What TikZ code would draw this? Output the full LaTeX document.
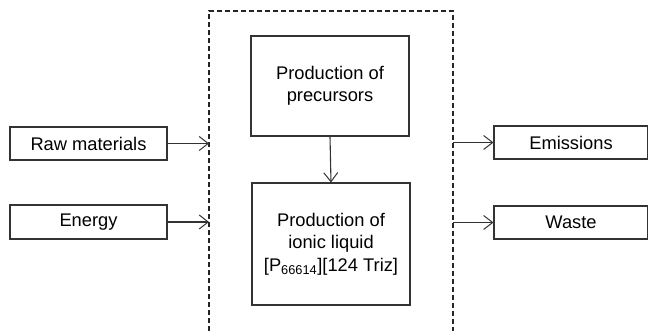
\documentclass[tikz,border=0pt]{standalone}
\usepackage{fontspec}
\setmainfont{Liberation Sans}
\usetikzlibrary{arrows.meta}
\begin{document}
\begin{tikzpicture}[x=1pt,y=1pt,
  every node/.style={font=\fontsize{18.3}{22.5}\selectfont},
  flowbox/.style={draw=black!80,line width=1.1pt,align=center,inner sep=0pt,fill=white},
  flowarrow/.style={draw=black!80,line width=1.1pt,-{Straight Barb[length=9pt,width=14pt,line width=1pt]}},
  sysline/.style={draw=black!85,line width=1.1pt,dash pattern=on 5pt off 3pt}]
\useasboundingbox (0,0) rectangle (648,331);
% system boundary
\coordinate (sbl) at (209,0);
\coordinate (stl) at (209,320);
\coordinate (str) at (453,320);
\coordinate (sbr) at (453,0);
\draw[sysline] (sbl) -- (stl) -- (str) -- (sbr);
% nodes
\node[flowbox,minimum width=158pt,minimum height=100pt] (prec) at (330,245) {Production of\\precursors};
\node[flowbox,minimum width=158pt,minimum height=122pt] (il) at (331,87) {Production of\\ionic liquid\\{[P}\textsubscript{66614}][124 Triz]};
\node[flowbox,minimum width=157pt,minimum height=33pt] (raw) at (88.5,187.5) {Raw materials};
\node[flowbox,minimum width=157pt,minimum height=34pt] (energy) at (88.5,109) {Energy};
\node[flowbox,minimum width=154pt,minimum height=33pt] (emis) at (571,188.5) {Emissions};
\node[flowbox,minimum width=154pt,minimum height=33pt] (waste) at (571,108.5) {Waste};
% connector end points on the boundary
\coordinate (inA) at (209,187.5);
\coordinate (inB) at (209,109);
\coordinate (outA) at (453,188.5);
\coordinate (outB) at (453,108.5);
\draw[flowarrow] (raw.east) -- (inA);
\draw[flowarrow] (energy.east) -- (inB);
\draw[flowarrow] (outA) -- (emis.west);
\draw[flowarrow] (outB) -- (waste.west);
\draw[flowarrow] (prec.south) -- (il.north);
\end{tikzpicture}
\end{document}
